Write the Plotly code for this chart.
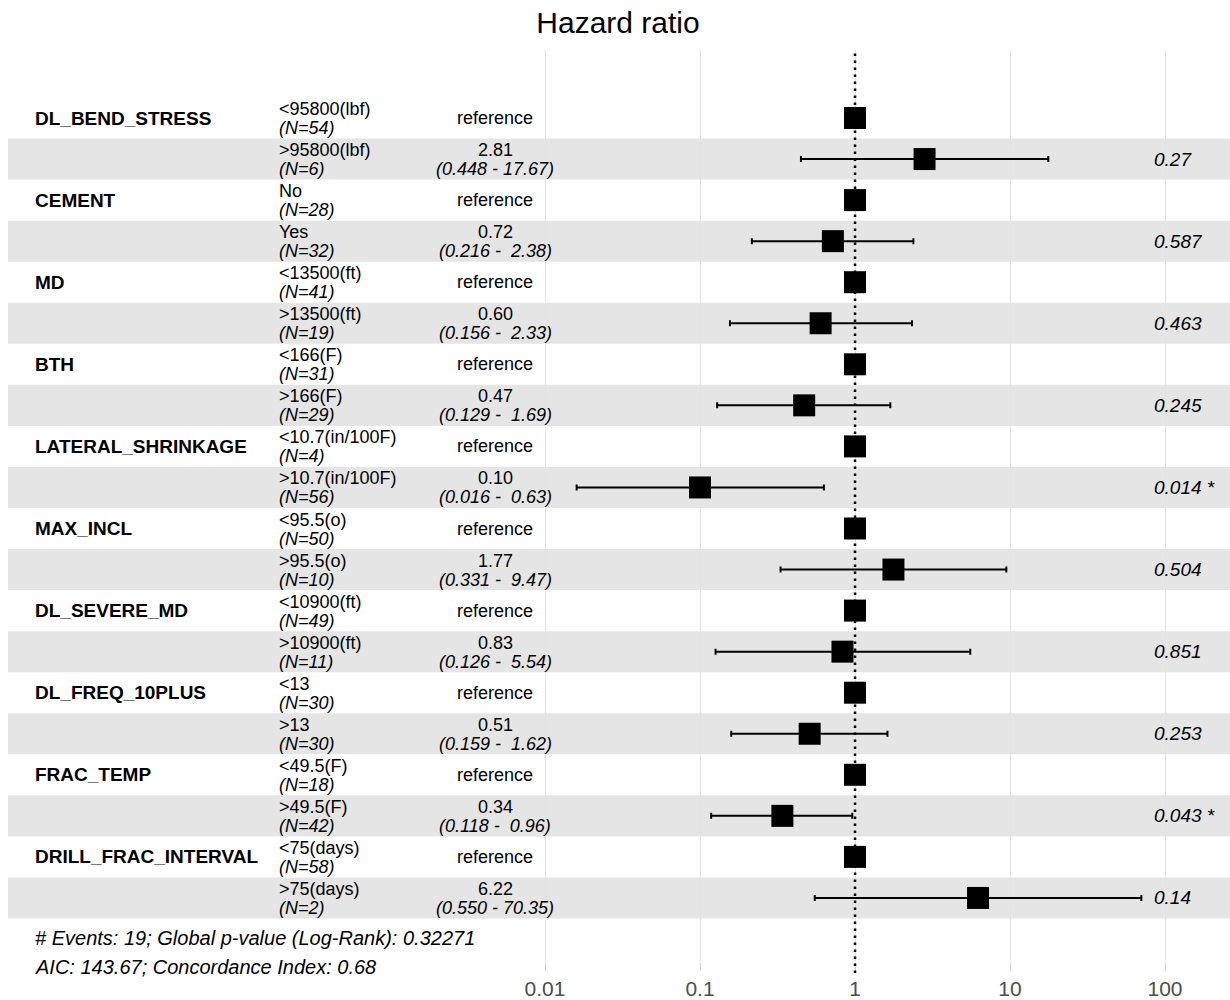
import plotly.graph_objects as go

# Cox model summary: one reference row plus one comparison row per variable
variables = ["DL_BEND_STRESS", "CEMENT", "MD", "BTH", "LATERAL_SHRINKAGE",
             "MAX_INCL", "DL_SEVERE_MD", "DL_FREQ_10PLUS", "FRAC_TEMP",
             "DRILL_FRAC_INTERVAL"]
ref_levels = ["<95800(lbf)", "No", "<13500(ft)", "<166(F)", "<10.7(in/100F)",
              "<95.5(o)", "<10900(ft)", "<13", "<49.5(F)", "<75(days)"]
ref_n = [54, 28, 41, 31, 4, 50, 49, 30, 18, 58]
cmp_levels = [">95800(lbf)", "Yes", ">13500(ft)", ">166(F)", ">10.7(in/100F)",
              ">95.5(o)", ">10900(ft)", ">13", ">49.5(F)", ">75(days)"]
cmp_n = [6, 32, 19, 29, 56, 10, 11, 30, 42, 2]
hr = [2.81, 0.72, 0.60, 0.47, 0.10, 1.77, 0.83, 0.51, 0.34, 6.22]
ci_low = [0.448, 0.216, 0.156, 0.129, 0.016, 0.331, 0.126, 0.159, 0.118, 0.550]
ci_high = [17.67, 2.38, 2.33, 1.69, 0.63, 9.47, 5.54, 1.62, 0.96, 70.35]
p_values = ["0.27", "0.587", "0.463", "0.245", "0.014 *", "0.504", "0.851",
            "0.253", "0.043 *", "0.14"]

tick_vals = [0.01, 0.1, 1, 10, 100]
tick_text = ["0.01", "0.1", "1", "10", "100"]

footnote = ["# Events: 19; Global p-value (Log-Rank): 0.32271",
            "AIC: 143.67; Concordance Index: 0.68"]

W, H = 1230, 1000
FONT = "Liberation Sans, Arial, sans-serif"
TXT = 18
ROW_PX = 41.05
PX_PER_DECADE = 155.0
X_ONE_PX = 855.0
TOP_PX, BOTTOM_PX = 50, 962
FIRST_ROW_PX = 118

n_rows = 2 * len(variables)
y_top = -(FIRST_ROW_PX - TOP_PX) / ROW_PX
y_bottom = (n_rows - 1) + (BOTTOM_PX - (FIRST_ROW_PX + ROW_PX * (n_rows - 1))) / ROW_PX
x_range = [-X_ONE_PX / PX_PER_DECADE, (W - X_ONE_PX) / PX_PER_DECADE]


def px(x):
    return x / W


def dy(p):
    return p / ROW_PX


ref_rows = [2 * i for i in range(len(variables))]
cmp_rows = [2 * i + 1 for i in range(len(variables))]

fig = go.Figure()

# reference squares at HR = 1
fig.add_trace(go.Scatter(
    x=[1] * len(ref_rows), y=ref_rows, mode="markers",
    marker=dict(symbol="square", size=22, color="black"),
    showlegend=False, hoverinfo="skip"))

# estimates with confidence intervals
fig.add_trace(go.Scatter(
    x=hr, y=cmp_rows, mode="markers",
    marker=dict(symbol="square", size=22, color="black"),
    error_x=dict(type="data", symmetric=False,
                 array=[h - e for e, h in zip(hr, ci_high)],
                 arrayminus=[e - l for e, l in zip(hr, ci_low)],
                 color="black", thickness=2, width=3),
    showlegend=False, hoverinfo="skip"))

shapes = []
# alternating row shading
for r in cmp_rows:
    shapes.append(dict(type="rect", xref="paper", yref="y",
                       x0=px(8), x1=1, y0=r - 0.5, y1=r + 0.5,
                       fillcolor="#e5e5e5", line=dict(width=0), layer="below"))
# null line at HR = 1
shapes.append(dict(type="line", xref="x", yref="paper", x0=1, x1=1,
                   y0=-0.012, y1=1,
                   line=dict(color="black", width=2.5, dash="2.5px,4.5px"),
                   layer="above"))

ann = []


def text(x, y, s, anchor="left", size=TXT, bold=False, italic=False,
         color="black", yref="y"):
    if bold:
        s = "<b>" + s + "</b>"
    if italic:
        s = "<i>" + s + "</i>"
    ann.append(dict(xref="paper", yref=yref, x=px(x), y=y, text=s,
                    xanchor=anchor, yanchor="middle", showarrow=False,
                    font=dict(family=FONT, size=size, color=color)))


for i, var in enumerate(variables):
    r0, r1 = ref_rows[i], cmp_rows[i]
    text(33, r0, var, bold=True, size=19)
    # reference level
    text(277, r0 + dy(-9), ref_levels[i])
    text(277, r0 + dy(10), "(N=%d)" % ref_n[i], italic=True)
    text(495, r0, "reference", anchor="center")
    # comparison level
    text(277, r1 + dy(-9), cmp_levels[i])
    text(277, r1 + dy(10), "(N=%d)" % cmp_n[i], italic=True)
    text(495, r1 + dy(-9), "%.2f" % hr[i], anchor="center")
    upper = ("%5.2f" % ci_high[i]).replace(" ", "&nbsp;")
    text(495, r1 + dy(10), "(%.3f - %s)" % (ci_low[i], upper),
         anchor="center", italic=True)
    text(1152, r1, p_values[i], italic=True, size=19)

# model summary footnotes, placed below the last row
panel_h = BOTTOM_PX - TOP_PX
text(33, (BOTTOM_PX - 938) / panel_h, footnote[0], italic=True, size=20, yref="paper")
text(33, (BOTTOM_PX - 967) / panel_h, footnote[1], italic=True, size=20, yref="paper")

fig.update_layout(
    width=W, height=H,
    margin=dict(l=0, r=0, t=TOP_PX, b=H - BOTTOM_PX),
    paper_bgcolor="white", plot_bgcolor="white",
    title=dict(text="Hazard ratio", x=618 / W, xanchor="center",
               y=1 - 22 / H, yanchor="middle",
               font=dict(family=FONT, size=30, color="black")),
    xaxis=dict(type="log", range=x_range, tickmode="array",
               tickvals=tick_vals, ticktext=tick_text,
               showgrid=True, gridcolor="#e3e3e3", gridwidth=1,
               zeroline=False, showline=False,
               ticks="outside", ticklen=8, tickcolor="#d0d0d0",
               tickfont=dict(family=FONT, size=21, color="#4d4d4d")),
    yaxis=dict(range=[y_bottom, y_top], showgrid=False, zeroline=False,
               showticklabels=False, ticks=""),
    shapes=shapes, annotations=ann, showlegend=False)

fig.write_html("out.html")
